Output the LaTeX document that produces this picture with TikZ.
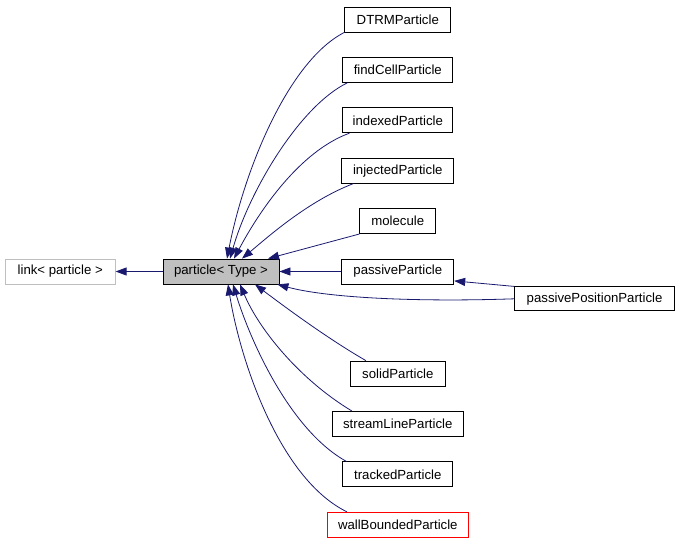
\documentclass[tikz,border=0pt]{standalone}
\usepackage{fontspec}
\setmainfont{Liberation Sans}
\usetikzlibrary{arrows.meta,positioning}
\definecolor{edgeblue}{RGB}{25,25,112}
\definecolor{basegray}{RGB}{191,191,191}

\begin{document}
\begin{tikzpicture}[x=1pt,y=1pt,node distance=24.6pt]
      \useasboundingbox (0,0) rectangle (680,-544);
      \begin{scope}[every node/.style={rectangle,draw,thick,minimum height=25pt,
          inner sep=0pt,font=\fontsize{13.2}{15}\selectfont}]
        \node (particle)[fill=basegray,minimum width=116pt] at (221,-271.5) {particle< Type >};
        \node (link)[draw=basegray,minimum width=110pt] [left=47pt of particle] {link< particle >};
        \node (passive)[minimum width=112pt] [right=62pt of particle] {passiveParticle};
        \node (molecule)[minimum width=76pt] [above=of passive] {molecule};
        \node (injected)[minimum width=112pt] [above=of molecule] {injectedParticle};
        \node (indexed)[minimum width=110pt] [above=of injected] {indexedParticle};
        \node (findcell)[minimum width=110pt] [above=of indexed] {findCellParticle};
        \node (dtrm)[minimum width=106pt] [above=of findcell] {DTRMParticle};
        \node (passivepos)[minimum width=160pt,minimum height=24pt] [below right=2pt and 60pt of passive] {passivePositionParticle};
        \node (solid)[minimum width=95pt] [below=76.2pt of passive] {solidParticle};
        \node (streamline)[minimum width=131pt] [below=of solid] {streamLineParticle};
        \node (tracked)[minimum width=110pt] [below=of streamline] {trackedParticle};
        \node (wallbounded)[draw=red,minimum width=141pt] [below=of tracked] {wallBoundedParticle};
      \end{scope}
      \begin{scope}[every path/.style={draw=edgeblue,thick,-{Triangle[length=11pt,width=8pt]}}]
        \path (particle) -- (link);
        \path (dtrm.south west) .. controls +(207:63) and +(79:90) .. ([xshift=6pt]particle.north);
        \path ([xshift=5pt]findcell.south west) .. controls +(206:53) and +(74:71) .. ([xshift=9pt]particle.north);
        \path ([xshift=7pt]indexed.south west) .. controls +(200:53) and +(62:54) .. ([xshift=13pt]particle.north);
        \path ([xshift=12pt]injected.south west) .. controls +(201:48) and +(40:35) .. ([xshift=21pt]particle.north);
        \path (molecule.south west) -- ([xshift=47pt]particle.north);
        \path (passive) -- (particle);
        \path (passivepos.north west) -- ([yshift=3.5pt]passive.south east);
        \path (passivepos.west) .. controls +(182:95) and +(345:53) .. ([xshift=-2pt]particle.south east);
        \path ([xshift=16pt]solid.north west) .. controls +(150:42) and +(323:44) .. ([xshift=34pt]particle.south);
        \path ([xshift=20pt]streamline.north west) .. controls +(149:60) and +(293:50) .. ([xshift=19pt]particle.south);
        \path ([xshift=4pt]tracked.north west) .. controls +(151:65) and +(287:58) .. ([xshift=12pt]particle.south);
        \path ([xshift=20pt]wallbounded.north west) .. controls +(154:75) and +(279:77) .. ([xshift=7pt]particle.south);
      \end{scope}
    \end{tikzpicture}
\end{document}
